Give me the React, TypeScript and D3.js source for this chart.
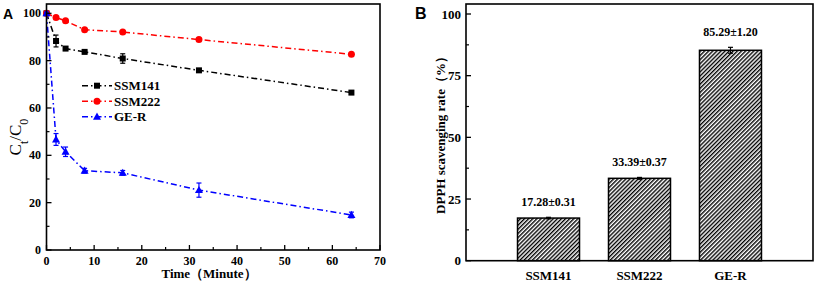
import React from "react";
import * as d3 from "d3";

const times = [0, 2, 4, 8, 16, 32, 64];
const ssm141 = [100, 88.3, 85.1, 83.7, 80.9, 75.9, 66.5];
const ssm141Err = [0.5, 2.5, 0.8, 0.6, 2, 0.6, 0.6];
const ssm222 = [100, 98.2, 96.8, 93.1, 92.1, 88.9, 82.7];
const ssm222Err = [0.5, 0.5, 0.5, 0.5, 0.5, 0.5, 0.5];
const geR = [100, 46.7, 41.5, 33.5, 32.6, 25.3, 14.8];
const geRErr = [0.5, 2.5, 2, 1, 1, 3, 1.2];
const seriesNames = ["SSM141", "SSM222", "GE-R"];
const seriesColors = ["#000000", "#ff0000", "#0000ff"];
const xTicksA = [0, 10, 20, 30, 40, 50, 60, 70];
const yTicksA = [0, 20, 40, 60, 80, 100];

const barCats = ["SSM141", "SSM222", "GE-R"];
const barVals = [17.28, 33.39, 85.29];
const barErrs = [0.31, 0.37, 1.2];
const barLabels = ["17.28±0.31", "33.39±0.37", "85.29±1.20"];
const yTicksB = [0, 25, 50, 75, 100];

const FONT = "Liberation Serif, Tinos, Times New Roman, DejaVu Serif, serif";
const SANS = "Liberation Sans, Arial, sans-serif";

function Marker({ type, x, y, color }: { type: number; x: number; y: number; color: string }) {
  if (type === 0) return <rect x={x - 3} y={y - 3} width={6} height={6} fill={color} />;
  if (type === 1) return <circle cx={x} cy={y} r={3.5} fill={color} />;
  return <path d={`M${x},${y - 4.2}L${x + 4},${y + 3}L${x - 4},${y + 3}Z`} fill={color} />;
}

export default function App() {
  const ax = d3.scaleLinear().domain([0, 70]).range([46.5, 380]);
  const ay = d3.scaleLinear().domain([0, 100]).range([250, 13.3]);
  const aTop = 4;
  const series = [
    { vals: ssm141, errs: ssm141Err },
    { vals: ssm222, errs: ssm222Err },
    { vals: geR, errs: geRErr },
  ];
  const line = d3
    .line<number>()
    .x((_, i) => ax(times[i]))
    .y((d) => ay(d));
  const dash = "6,3,1.5,3";

  const bx = d3.scalePoint<string>().domain(barCats).range([466, 813]).padding(0.907);
  const by = d3.scaleLinear().domain([0, 100]).range([260.7, 14]);
  const bTop = 4;
  const barW = 62;

  const minorXA = d3.range(5, 70, 10);
  const minorYA = d3.range(10, 101, 20);
  const minorYB = d3.range(12.5, 100, 25);

  const bold = { fontFamily: FONT, fontWeight: 700 } as React.CSSProperties;

  return (
    <svg width={817} height={282} style={{ position: "absolute", left: 0, top: 0, background: "#fff", fontFamily: FONT }}>
      <defs>
        <pattern id="hatch" patternUnits="userSpaceOnUse" width={2.9} height={2.9} patternTransform="rotate(45)">
          <rect width={2.9} height={2.9} fill="#fff" />
          <line x1={0.7} y1={0} x2={0.7} y2={2.9} stroke="#000" strokeWidth={1.4} />
        </pattern>
      </defs>

      <text x={3} y={18.5} style={{ fontFamily: SANS, fontWeight: 700, fontSize: 14 }}>A</text>

      {series.map((s, k) => (
        <path key={k} d={line(s.vals) || ""} fill="none" stroke={seriesColors[k]} strokeWidth={1.5} strokeDasharray={dash} />
      ))}
      {series.map((s, k) =>
        s.vals.map((v, i) => {
          const x = ax(times[i]);
          const y1 = ay(v + s.errs[i]);
          const y2 = ay(v - s.errs[i]);
          return (
            <g key={`${k}-${i}`}>
              <line x1={x} x2={x} y1={y1} y2={y2} stroke={seriesColors[k]} strokeWidth={1.2} />
              <line x1={x - 2.5} x2={x + 2.5} y1={y1} y2={y1} stroke={seriesColors[k]} strokeWidth={1.2} />
              <line x1={x - 2.5} x2={x + 2.5} y1={y2} y2={y2} stroke={seriesColors[k]} strokeWidth={1.2} />
              <Marker type={k} x={x} y={ay(v)} color={seriesColors[k]} />
            </g>
          );
        })
      )}

      <rect x={ax(0)} y={aTop} width={ax(70) - ax(0)} height={ay(0) - aTop} fill="none" stroke="#000" strokeWidth={1.6} />
      {xTicksA.map((t) => (
        <g key={`xa${t}`}>
          <line x1={ax(t)} x2={ax(t)} y1={ay(0)} y2={ay(0) - 5} stroke="#000" strokeWidth={1.3} />
          <text x={ax(t)} y={264.5} textAnchor="middle" style={{ ...bold, fontSize: 12 }}>{t}</text>
        </g>
      ))}
      {minorXA.map((t) => (
        <line key={`mxa${t}`} x1={ax(t)} x2={ax(t)} y1={ay(0)} y2={ay(0) - 3} stroke="#000" strokeWidth={1.2} />
      ))}
      {yTicksA.map((t) => (
        <g key={`ya${t}`}>
          <line x1={ax(0)} x2={ax(0) + 5} y1={ay(t)} y2={ay(t)} stroke="#000" strokeWidth={1.3} />
          <text x={41} y={ay(t) + 4} textAnchor="end" style={{ ...bold, fontSize: 12 }}>{t}</text>
        </g>
      ))}
      {minorYA.map((t) => (
        <line key={`mya${t}`} x1={ax(0)} x2={ax(0) + 3} y1={ay(t)} y2={ay(t)} stroke="#000" strokeWidth={1.2} />
      ))}
      <text x={209} y={278} textAnchor="middle" style={{ ...bold, fontSize: 13 }}>Time（Minute）</text>
      <text transform="translate(21,137) rotate(-90)" textAnchor="middle" style={{ fontFamily: FONT, fontSize: 17 }}>
        C<tspan baselineShift="sub" style={{ fontSize: 12 }}>t</tspan>/C<tspan baselineShift="sub" style={{ fontSize: 12 }}>0</tspan>
      </text>

      {seriesNames.map((n, k) => {
        const y = 85.7 + k * 15.5;
        return (
          <g key={`lg${k}`}>
            <line x1={82} x2={112} y1={y} y2={y} stroke={seriesColors[k]} strokeWidth={1.5} strokeDasharray={dash} />
            <Marker type={k} x={97} y={y} color={seriesColors[k]} />
            <text x={114} y={y + 4.5} style={{ ...bold, fontSize: 13 }}>{n}</text>
          </g>
        );
      })}

      <text x={415} y={19} style={{ fontFamily: SANS, fontWeight: 700, fontSize: 16 }}>B</text>

      {barCats.map((c, i) => {
        const cx = bx(c) as number;
        const top = by(barVals[i]);
        const e1 = by(barVals[i] + barErrs[i]);
        const e2 = by(barVals[i] - barErrs[i]);
        return (
          <g key={`bar${c}`}>
            <rect x={cx - barW / 2} y={top} width={barW} height={by(0) - top} fill="url(#hatch)" stroke="#000" strokeWidth={1.5} />
            <line x1={cx} x2={cx} y1={e1} y2={e2} stroke="#000" strokeWidth={1.2} />
            <line x1={cx - 2.5} x2={cx + 2.5} y1={e1} y2={e1} stroke="#000" strokeWidth={1.2} />
            <line x1={cx - 2.5} x2={cx + 2.5} y1={e2} y2={e2} stroke="#000" strokeWidth={1.2} />
            <text x={cx} y={e1 - 11} textAnchor="middle" style={{ ...bold, fontSize: 12 }}>{barLabels[i]}</text>
            <text x={cx} y={280} textAnchor="middle" style={{ ...bold, fontSize: 13 }}>{c}</text>
          </g>
        );
      })}

      <rect x={466} y={bTop} width={813 - 466} height={by(0) - bTop} fill="none" stroke="#000" strokeWidth={1.6} />
      {yTicksB.map((t) => (
        <g key={`yb${t}`}>
          <line x1={466} x2={471} y1={by(t)} y2={by(t)} stroke="#000" strokeWidth={1.3} />
          <text x={461} y={by(t) + 4.5} textAnchor="end" style={{ ...bold, fontSize: 13 }}>{t}</text>
        </g>
      ))}
      {minorYB.map((t) => (
        <line key={`myb${t}`} x1={466} x2={469} y1={by(t)} y2={by(t)} stroke="#000" strokeWidth={1.2} />
      ))}
      <text transform="translate(445,132) rotate(-90)" textAnchor="middle" style={{ ...bold, fontSize: 13 }}>
        DPPH scavenging rate（%）
      </text>
    </svg>
  );
}
